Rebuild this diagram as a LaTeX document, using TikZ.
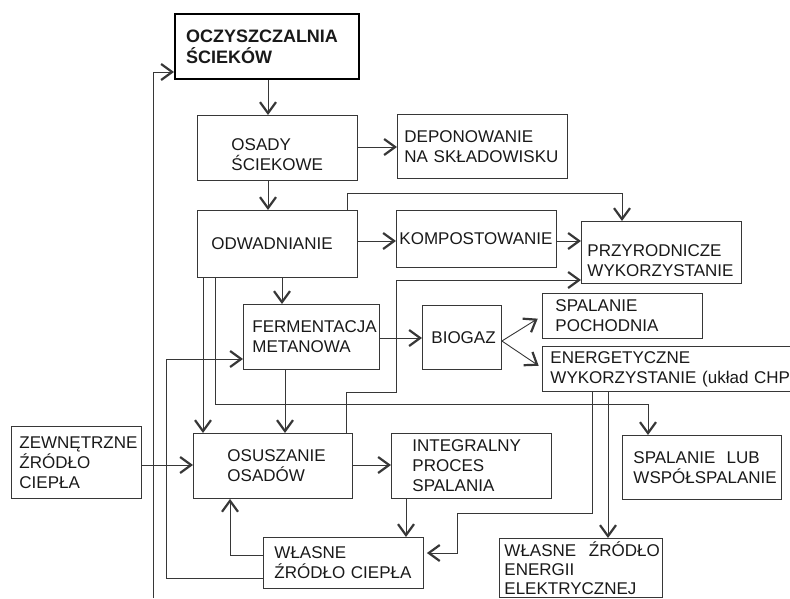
\documentclass[tikz,border=0pt]{standalone}
\usepackage{fontspec}
\setmainfont{Liberation Sans}
\usetikzlibrary{arrows.meta,calc}
\definecolor{lc}{RGB}{55,55,55}
\definecolor{tc}{RGB}{25,25,25}
\begin{document}
\begin{tikzpicture}[x=1pt,y=-1pt,
  box/.style={draw=lc, line width=0.9pt, text=tc, align=left, anchor=north west,
    inner ysep=2pt, font=\fontsize{17pt}{20pt}\selectfont},
  arr/.style={draw=lc, line width=0.9pt,
    -{Straight Barb[length=11pt,width=16pt,line width=2.2pt]}},
  ln/.style={draw=lc, line width=0.9pt}]
\useasboundingbox (0,0) rectangle (790,598);

% boxes
\node[box, draw=black, line width=2pt, minimum width=184pt, minimum height=65pt,
  text width=162pt, inner xsep=11pt, font=\bfseries\fontsize{18pt}{21pt}\selectfont]
  (ocz) at (174,13) {OCZYSZCZALNIA\\ŚCIEKÓW};
\node[box, minimum width=160pt, minimum height=65pt, text width=92pt, inner xsep=34pt,
  text height=26pt]
  (osady) at (197,115) {OSADY\\ŚCIEKOWE};
\node[box, minimum width=170pt, minimum height=64pt, text width=156pt, inner xsep=7pt]
  (depon) at (397,114) {DEPONOWANIE\\NA SKŁADOWISKU};
\node[box, minimum width=160pt, minimum height=67pt, text width=132pt, inner xsep=14pt]
  (odw) at (197,210) {ODWADNIANIE};
\node[box, minimum width=160pt, minimum height=57pt, text width=154pt, inner xsep=3pt]
  (komp) at (396,210) {KOMPOSTOWANIE};
\node[box, minimum width=160pt, minimum height=62pt, text width=148pt, inner xsep=6pt,
  text height=28pt]
  (przyr) at (581,221) {PRZYRODNICZE\\WYKORZYSTANIE};
\node[box, minimum width=136pt, minimum height=65pt, text width=118pt, inner xsep=9pt]
  (ferm) at (243,304) {FERMENTACJA\\METANOWA};
\node[box, minimum width=79pt, minimum height=64pt, text width=61pt, inner xsep=9pt]
  (biogaz) at (422,305) {BIOGAZ};
\node[box, minimum width=160pt, minimum height=45pt, text width=134pt, inner xsep=13pt]
  (spal) at (542,293) {SPALANIE\\POCHODNIA};
\node[box, minimum width=260pt, minimum height=45pt, text width=244pt, inner xsep=8pt]
  (energ) at (542,346) {ENERGETYCZNE\\WYKORZYSTANIE (układ CHP};
\node[box, minimum width=159pt, minimum height=64pt, text width=137pt, inner xsep=11pt]
  (spall) at (622,435) {SPALANIE~~LUB\\WSPÓŁSPALANIE};
\node[box, minimum width=130pt, minimum height=72pt, text width=114pt, inner xsep=8pt]
  (zewn) at (11,426) {ZEWNĘTRZNE\\ŹRÓDŁO\\CIEPŁA};
\node[box, minimum width=159pt, minimum height=65pt, text width=91pt, inner xsep=34pt]
  (osusz) at (193,433) {OSUSZANIE\\OSADÓW};
\node[box, minimum width=160pt, minimum height=65pt, text width=118pt, inner xsep=21pt]
  (integ) at (391,433) {INTEGRALNY\\PROCES\\SPALANIA};
\node[box, minimum width=160pt, minimum height=51pt, text width=138pt, inner xsep=11pt]
  (wlasc) at (263,537) {WŁASNE\\ŹRÓDŁO CIEPŁA};
\node[box, minimum width=163pt, text width=153pt, inner xsep=5pt, inner ysep=3pt,
  font=\fontsize{17pt}{19pt}\selectfont]
  (wlase) at (499,538) {\mbox{WŁASNE\hspace{0.75em}ŹRÓDŁO}\\ENERGII\\ELEKTRYCZNEJ};

% connectors
\draw[arr] (ocz.south -| 268,0) -- (osady.north -| 268,0);
\draw[arr] (osady.east |- 0,147) -- (depon.west |- 0,147);
\draw[arr] (osady.south -| 268,0) -- (odw.north -| 268,0);
\draw[arr] (odw.north -| 347,0) -- (347,193) -| (przyr.north -| 622,0);
\draw[arr] (odw.east |- 0,241) -- (komp.west |- 0,241);
\draw[arr] (komp.east |- 0,241) -- (przyr.west |- 0,241);
\draw[arr] (odw.south -| 282,0) -- (ferm.north -| 282,0);
\draw[arr] (osusz.north -| 346,0) -- (346,392) -- (396,392) |- (przyr.west |- 0,280);
\draw[arr] (odw.south -| 203,0) -- (osusz.north -| 203,0);
\draw[arr] (odw.south -| 215,0) |- (648,404) -- (spall.north -| 648,0);
\draw[arr] (ferm.south -| 285,0) -- (osusz.north -| 285,0);
\draw[arr] (ferm.east |- 0,338) -- (biogaz.west |- 0,338);
\draw[arr, shorten >=5pt] (biogaz.east |- 0,341) -- (spal.west |- 0,316);
\draw[arr, shorten >=4pt] (biogaz.east |- 0,341) -- (energ.west |- 0,368);
\draw[arr, shorten >=3pt] (energ.south -| 592,0) -- (592,513) -- (457,513) |- (wlasc.east |- 0,553);
\draw[arr] (energ.south -| 608,0) -- (wlase.north -| 608,0);
\draw[arr] (zewn.east |- 0,465) -- (osusz.west |- 0,465);
\draw[arr] (osusz.east |- 0,465) -- (integ.west |- 0,465);
\draw[arr] (integ.south -| 406,0) -- (wlasc.north -| 406,0);
\draw[arr] (wlasc.west |- 0,555) -| (osusz.south -| 230,0);
\draw[arr] (wlasc.west |- 0,578) -| (166,359) -- (ferm.west |- 0,359);
\coordinate (bot) at (153,598);
\draw[arr] (bot) |- (ocz.west |- 0,72);
\end{tikzpicture}
\end{document}
